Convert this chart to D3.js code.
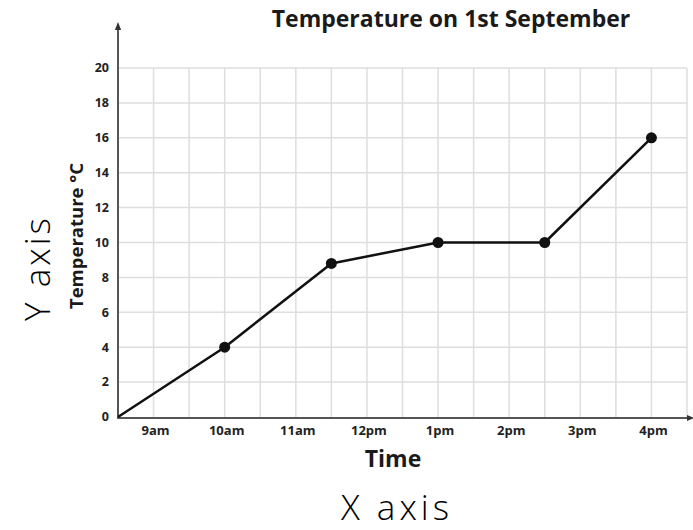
<!DOCTYPE html>
<html>
<head>
<meta charset="utf-8">
<style>
  body { margin: 0; background: #fff; }
  text { font-family: "Open Sans", "DejaVu Sans", sans-serif; }
</style>
</head>
<body>
<svg width="693" height="530"></svg>
<script src="https://d3js.org/d3.v7.min.js"></script>
<script>

// readings (hour of day, °C)
var times = [8.5, 10, 11.5, 13, 14.5, 16];
var temps = [0, 4, 8.8, 10, 10, 16];

// axis labels
var tickHours = [9, 10, 11, 12, 13, 14, 15, 16];
var tickLabels = ["9am", "10am", "11am", "12pm", "1pm", "2pm", "3pm", "4pm"];
var yTicks = [0, 2, 4, 6, 8, 10, 12, 14, 16, 18, 20];

var data = times.map(function(t, i) { return {t: t, v: temps[i]}; });

var svg = d3.select("svg");

var x = d3.scaleLinear().domain([8.5, 16.5]).range([118, 687]);
var y = d3.scaleLinear().domain([0, 20]).range([417, 68]);

// grid
var g = svg.append("g");
g.selectAll(".vgrid")
    .data(d3.range(9, 16.51, 0.5))
  .enter().append("line")
    .attr("x1", function(d) { return x(d); })
    .attr("x2", function(d) { return x(d); })
    .attr("y1", y(0))
    .attr("y2", y(20))
    .attr("stroke", "#dedede")
    .attr("stroke-width", 1.5);

g.selectAll(".hgrid")
    .data(yTicks.slice(1))
  .enter().append("line")
    .attr("x1", x(8.5))
    .attr("x2", x(16.5))
    .attr("y1", function(d) { return y(d); })
    .attr("y2", function(d) { return y(d); })
    .attr("stroke", "#dedede")
    .attr("stroke-width", 1.5);

// axes with small arrow heads
svg.append("defs").append("marker")
    .attr("id", "arr")
    .attr("viewBox", "0 0 10 10")
    .attr("refX", 5).attr("refY", 5)
    .attr("markerWidth", 4).attr("markerHeight", 4)
    .attr("orient", "auto")
  .append("path")
    .attr("d", "M0,1L10,5L0,9z")
    .attr("fill", "#333");

svg.append("line")
    .attr("x1", x(8.5)).attr("x2", x(8.5))
    .attr("y1", y(0) + 1).attr("y2", y(22.4))
    .attr("stroke", "#555").attr("stroke-width", 2)
    .attr("marker-end", "url(#arr)");

svg.append("line")
    .attr("x1", x(8.5) - 1).attr("x2", x(16.55))
    .attr("y1", y(0) + 1).attr("y2", y(0) + 1)
    .attr("stroke", "#555").attr("stroke-width", 2)
    .attr("marker-end", "url(#arr)");

// tick labels
svg.selectAll(".ylab")
    .data(yTicks)
  .enter().append("text")
    .attr("x", 109)
    .attr("y", function(d) { return y(d); })
    .attr("dy", "0.35em")
    .attr("text-anchor", "end")
    .attr("font-size", 12.5)
    .attr("font-weight", 700)
    .attr("fill", "#222")
    .text(function(d) { return d; });

svg.selectAll(".xlab")
    .data(tickHours)
  .enter().append("text")
    .attr("x", function(d) { return x(d) + 2; })
    .attr("y", 435)
    .attr("text-anchor", "middle")
    .attr("font-size", 13)
    .attr("font-weight", 700)
    .attr("fill", "#222")
    .text(function(d, i) { return tickLabels[i]; });

// line and points
var line = d3.line()
    .x(function(d) { return x(d.t); })
    .y(function(d) { return y(d.v); });

svg.append("path")
    .datum(data)
    .attr("fill", "none")
    .attr("stroke", "#111")
    .attr("stroke-width", 2.5)
    .attr("stroke-linejoin", "round")
    .attr("d", line);

svg.selectAll(".pt")
    .data(data.slice(1))
  .enter().append("circle")
    .attr("cx", function(d) { return x(d.t); })
    .attr("cy", function(d) { return y(d.v); })
    .attr("r", 5.5)
    .attr("fill", "#111");

// titles
svg.append("text")
    .attr("x", 451).attr("y", 27)
    .attr("text-anchor", "middle")
    .attr("font-size", 23)
    .attr("font-weight", 700)
    .attr("fill", "#1a1a1a")
    .text("Temperature on 1st September");

svg.append("text")
    .attr("transform", "translate(83,236) rotate(-90)")
    .attr("text-anchor", "middle")
    .attr("font-size", 18.5)
    .attr("font-weight", 700)
    .attr("fill", "#1a1a1a")
    .text("Temperature °C");

svg.append("text")
    .attr("x", 393).attr("y", 467)
    .attr("text-anchor", "middle")
    .attr("font-size", 23)
    .attr("font-weight", 700)
    .attr("fill", "#1a1a1a")
    .text("Time");

svg.append("text")
    .attr("x", 397).attr("y", 520)
    .attr("text-anchor", "middle")
    .attr("font-family", "Lato, sans-serif")
    .attr("font-size", 35)
    .attr("font-weight", 300)
    .attr("letter-spacing", 4)
    .attr("fill", "#000")
    .text("X axis");

svg.append("text")
    .attr("transform", "translate(50,268) rotate(-90)")
    .attr("text-anchor", "middle")
    .attr("font-family", "Lato, sans-serif")
    .attr("font-size", 35)
    .attr("font-weight", 300)
    .attr("letter-spacing", 3)
    .attr("fill", "#000")
    .text("Y axis");

</script>
</body>
</html>
